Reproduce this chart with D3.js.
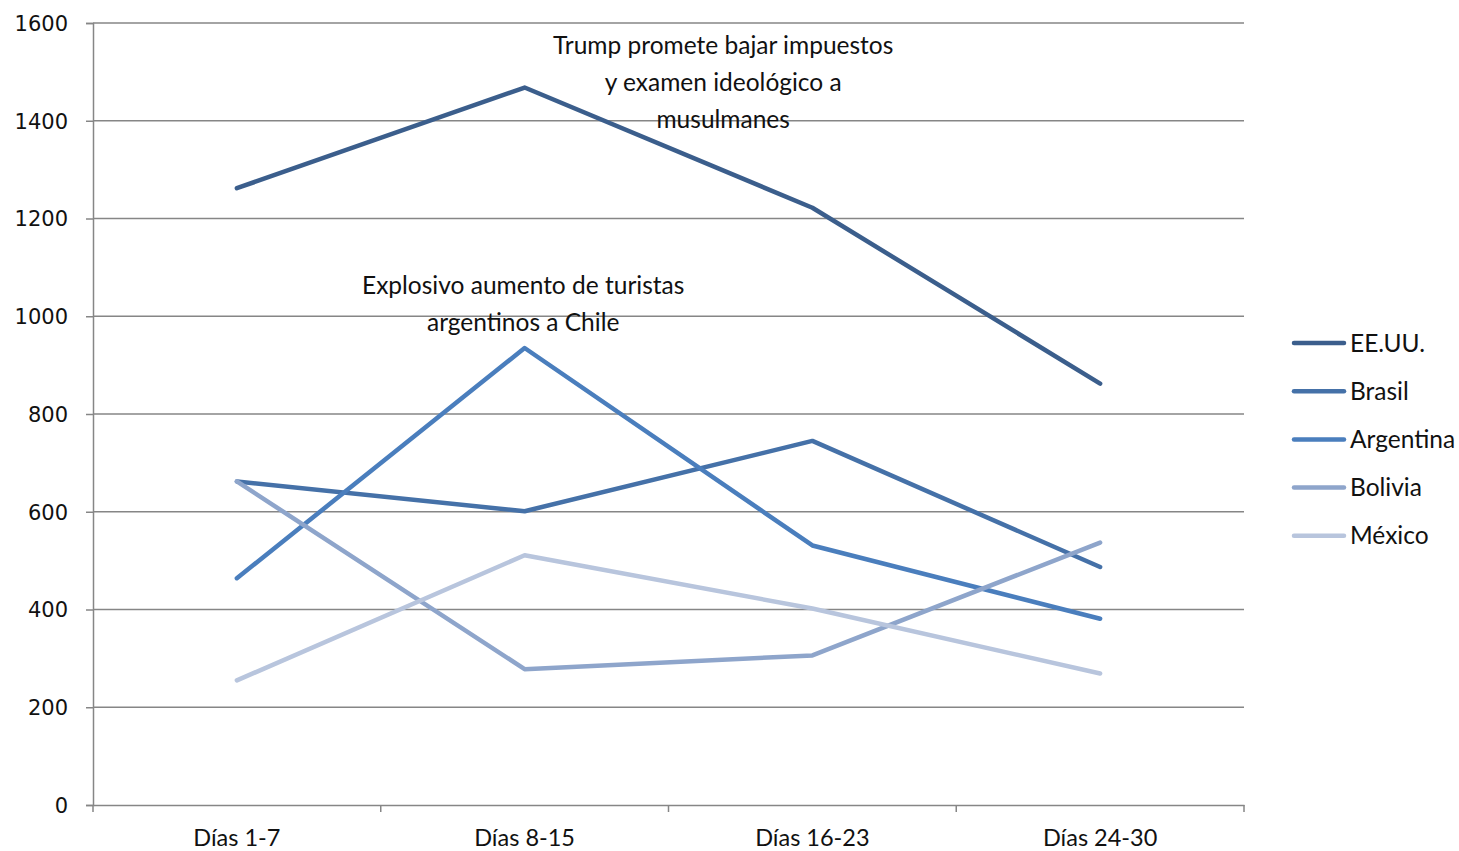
<!DOCTYPE html>
<html><head><meta charset="utf-8">
<script src="https://cdn.jsdelivr.net/npm/d3@7"></script>
<style>body{margin:0;background:#fff}svg{display:block}</style>
</head><body>
<script>
const categories = ["Días 1-7", "Días 8-15", "Días 16-23", "Días 24-30"];
const seriesNames = ["EE.UU.", "Brasil", "Argentina", "Bolivia", "México"];
const eeuu = [1262, 1468, 1222, 862];
const brasil = [662, 601, 745, 487];
const argentina = [464, 935, 531, 381];
const bolivia = [662, 278, 306, 537];
const mexico = [255, 511, 402, 269];
const colors = ["#3b5e8c", "#4571a8", "#4a7ebd", "#8ea5cb", "#b8c5dd"];
const yTicks = [0, 200, 400, 600, 800, 1000, 1200, 1400, 1600];
const annotations = [
  {cat: "Días 8-15", offset: 0.69, lines: ["Trump promete bajar impuestos", "y examen ideológico a", "musulmanes"], y: 1555, dy: 9},
  {cat: "Días 8-15", offset: -0.005, lines: ["Explosivo aumento de turistas", "argentinos a Chile"], y: 1065, dy: 10}
];
const data = [eeuu, brasil, argentina, bolivia, mexico];

(function () {
const W = 1459, H = 851;
const svg = d3.select("body").append("svg").attr("width", W).attr("height", H);
const mL = 93, mR = 1244, mT = 23, mB = 805;
const x = d3.scaleBand().domain(categories).range([mL, mR]);
const y = d3.scaleLinear().domain([0, 1600]).range([mB, mT]);
const font = "Lato, 'Open Sans', sans-serif";

// gridlines
svg.append("g").selectAll("line").data(yTicks.filter(d => d > 0)).join("line")
  .attr("x1", mL).attr("x2", mR).attr("y1", d => y(d)).attr("y2", d => y(d))
  .attr("stroke", "#868686").attr("stroke-width", 1.5);

// y axis
const ya = svg.append("g").attr("transform", `translate(${mL},0)`)
  .call(d3.axisLeft(y).tickValues(yTicks).tickFormat(d3.format("d")).tickSize(7).tickPadding(18));
ya.select(".domain").attr("stroke", "#868686").attr("stroke-width", 1.5);
ya.selectAll(".tick line").attr("stroke", "#868686").attr("stroke-width", 1.5);
ya.selectAll("text").attr("font-family", "'DejaVu Sans', Verdana, sans-serif").attr("font-size", 21).attr("fill", "#111").attr("dy", "0.35em");

// x axis
const xa = svg.append("g").attr("transform", `translate(0,${mB})`)
  .call(d3.axisBottom(x).tickSize(0).tickPadding(24));
xa.select(".domain").attr("stroke", "#868686").attr("stroke-width", 1.5);
xa.selectAll("text").attr("font-family", font).attr("font-size", 23.5).attr("fill", "#111");
const bounds = categories.map(c => x(c)).concat([mR]);
xa.append("g").selectAll("line").data(bounds).join("line")
  .attr("x1", d => d).attr("x2", d => d).attr("y1", 0).attr("y2", 7)
  .attr("stroke", "#868686").attr("stroke-width", 1.5);

// lines
const line = d3.line().x((d, i) => x(categories[i]) + x.bandwidth() / 2).y(d => y(d));
svg.append("g").selectAll("path").data(data).join("path")
  .attr("d", d => line(d)).attr("fill", "none")
  .attr("stroke", (d, i) => colors[i]).attr("stroke-width", 4.5)
  .attr("stroke-linecap", "round").attr("stroke-linejoin", "round");

// annotations
annotations.forEach(a => {
  const cx = x(a.cat) + x.bandwidth() / 2 + a.offset * x.bandwidth();
  const t = svg.append("text").attr("text-anchor", "middle").attr("font-family", font)
    .attr("font-size", 24.5).attr("fill", "#111");
  a.lines.forEach((l, i) => {
    t.append("tspan").attr("x", cx).attr("y", y(a.y) + a.dy + i * 37).text(l);
  });
});

// legend
const lg = svg.append("g");
seriesNames.forEach((n, i) => {
  const yy = 343 + i * 48.2;
  lg.append("line").attr("x1", 1294).attr("x2", 1344).attr("y1", yy).attr("y2", yy)
    .attr("stroke", colors[i]).attr("stroke-width", 4.5).attr("stroke-linecap", "round");
  lg.append("text").attr("x", 1350).attr("y", yy + 8.5).attr("font-family", font)
    .attr("font-size", 24.5).attr("fill", "#111").text(n);
});
})();
</script>
</body></html>
